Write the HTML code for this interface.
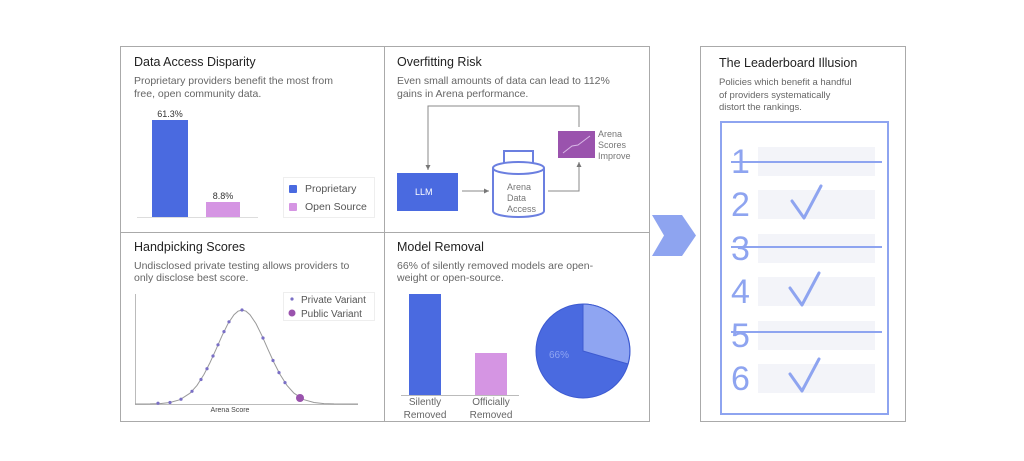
<!DOCTYPE html>
<html><head><meta charset="utf-8"><style>
html,body{margin:0;padding:0;background:#fff;}
svg{display:block;font-family:"Liberation Sans",sans-serif;}
</style></head><body>
<svg width="1024" height="461" viewBox="0 0 1024 461" xmlns="http://www.w3.org/2000/svg">
<defs>
<marker id="ah" markerWidth="6" markerHeight="6" refX="5" refY="3" orient="auto"><path d="M0,0.5 L5,3 L0,5.5 Z" fill="#777"/></marker>
</defs>
<rect x="120.5" y="46.5" width="529" height="375" fill="#fff" stroke="#aaa"/>
<line x1="384.5" y1="46" x2="384.5" y2="421" stroke="#aaa"/>
<line x1="120" y1="232.5" x2="649" y2="232.5" stroke="#aaa"/>

<text x="134" y="66" font-size="12.5" fill="#222">Data Access Disparity</text>
<text x="134" y="84" font-size="10.5" fill="#666">Proprietary providers benefit the most from</text>
<text x="134" y="97" font-size="10.5" fill="#666">free, open community data.</text>
<text x="170" y="117" font-size="9" fill="#333" text-anchor="middle">61.3%</text>
<rect x="152" y="120" width="36" height="97" fill="#4a6ae0"/>
<text x="223" y="199" font-size="9" fill="#333" text-anchor="middle">8.8%</text>
<rect x="206" y="202" width="34" height="15" fill="#d595e3"/>
<line x1="137" y1="217.5" x2="258" y2="217.5" stroke="#ddd"/>
<rect x="283.5" y="177.5" width="91" height="40" fill="#fff" stroke="#eee"/>
<rect x="289" y="185" width="8" height="8" rx="1" fill="#4a6ae0"/>
<text x="305" y="192" font-size="10.5" fill="#555">Proprietary</text>
<rect x="289" y="203" width="8" height="8" rx="1" fill="#d595e3"/>
<text x="305" y="210" font-size="10.5" fill="#555">Open Source</text>

<text x="397" y="66" font-size="12.5" fill="#222">Overfitting Risk</text>
<text x="397" y="84" font-size="10.5" fill="#666">Even small amounts of data can lead to 112%</text>
<text x="397" y="97" font-size="10.5" fill="#666">gains in Arena performance.</text>
<polyline points="579,127 579,106 428,106 428,170" fill="none" stroke="#888" marker-end="url(#ah)"/>
<rect x="397" y="173" width="61" height="38" fill="#4a6ae0"/>
<text x="415" y="195" font-size="9" fill="#fff">LLM</text>
<line x1="462" y1="191" x2="489" y2="191" stroke="#888" marker-end="url(#ah)"/>
<path d="M504,166 V151 H533 V166" fill="none" stroke="#6b7fe0" stroke-width="2"/>
<path d="M493,168 V211 A25.5,6 0 0 0 544,211 V168" fill="#fff" stroke="#6b7fe0" stroke-width="2"/>
<ellipse cx="518.5" cy="168" rx="25.5" ry="6" fill="#fff" stroke="#6b7fe0" stroke-width="2"/>
<text x="507" y="190" font-size="9" fill="#777">Arena</text>
<text x="507" y="201" font-size="9" fill="#777">Data</text>
<text x="507" y="212" font-size="9" fill="#777">Access</text>
<polyline points="548,191 579,191 579,162" fill="none" stroke="#888" marker-end="url(#ah)"/>
<rect x="558" y="131" width="37" height="27" fill="#9a53ad"/>
<polyline points="563,153 572,146 578,145 590,136" fill="none" stroke="#d9b8e6" stroke-width="1"/>
<text x="598" y="137" font-size="9" fill="#777">Arena</text>
<text x="598" y="148" font-size="9" fill="#777">Scores</text>
<text x="598" y="159" font-size="9" fill="#777">Improve</text>

<text x="134" y="251" font-size="12.5" fill="#222">Handpicking Scores</text>
<text x="134" y="269" font-size="10.5" fill="#666">Undisclosed private testing allows providers to</text>
<text x="134" y="281" font-size="10.5" fill="#666">only disclose best score.</text>
<line x1="135.5" y1="294" x2="135.5" y2="404" stroke="#bbb"/>
<line x1="135" y1="404.5" x2="358" y2="404.5" stroke="#bbb"/>
<polyline fill="none" stroke="#999" stroke-width="1" points="135,404 150,403.9 160,403.6 170,402.5 180,399.7 190,393.2 197,385.4 204,374.4 210,362.6 216,349.4 222,335.8 228,323.6 234,314.7 238,311.2 242,310 246,311.2 250,314.7 256,323.6 262,335.8 268,349.4 274,362.6 280,374.4 287,385.4 294,393.2 304,399.7 314,402.5 324,403.6 334,403.9 358,404"/>
<g fill="#7a6fc6">
<circle cx="158" cy="403.2" r="1.6"/><circle cx="170" cy="402.5" r="1.6"/><circle cx="181" cy="399.2" r="1.6"/><circle cx="192" cy="391.3" r="1.6"/><circle cx="201" cy="379.5" r="1.6"/><circle cx="207" cy="368.7" r="1.6"/><circle cx="213" cy="356" r="1.6"/><circle cx="218" cy="344.8" r="1.6"/><circle cx="224" cy="331.6" r="1.6"/><circle cx="229" cy="321.8" r="1.6"/><circle cx="242" cy="310" r="1.6"/><circle cx="263" cy="338" r="1.6"/><circle cx="273" cy="360.5" r="1.6"/><circle cx="279" cy="372.6" r="1.6"/><circle cx="285" cy="382.6" r="1.6"/>
</g>
<circle cx="300" cy="398" r="4" fill="#9a53ad"/>
<text x="230" y="412" font-size="7" fill="#444" text-anchor="middle">Arena Score</text>
<rect x="283.5" y="292.5" width="91" height="28" fill="#fff" stroke="#eee"/>
<circle cx="292" cy="299" r="1.6" fill="#7a6fc6"/>
<text x="301" y="303" font-size="10" fill="#555">Private Variant</text>
<circle cx="292" cy="313" r="3.5" fill="#9a53ad"/>
<text x="301" y="317" font-size="10" fill="#555">Public Variant</text>

<text x="397" y="251" font-size="12.5" fill="#222">Model Removal</text>
<text x="397" y="269" font-size="10.5" fill="#666">66% of silently removed models are open-</text>
<text x="397" y="281" font-size="10.5" fill="#666">weight or open-source.</text>
<rect x="409" y="294" width="32" height="101" fill="#4a6ae0"/>
<rect x="475" y="353" width="32" height="42" fill="#d595e3"/>
<line x1="401" y1="395.5" x2="519" y2="395.5" stroke="#bbb"/>
<text x="425" y="405" font-size="10" fill="#666" text-anchor="middle">Silently</text>
<text x="425" y="418" font-size="10" fill="#666" text-anchor="middle">Removed</text>
<text x="491" y="405" font-size="10" fill="#666" text-anchor="middle">Officially</text>
<text x="491" y="418" font-size="10" fill="#666" text-anchor="middle">Removed</text>
<circle cx="583" cy="351" r="47" fill="#4a6ae0" stroke="#3d5ad0"/>
<path d="M583,351 L583,304 A47,47 0 0 1 628,364 Z" fill="#8fa5f2" stroke="#3d5ad0"/>
<text x="549" y="358" font-size="10" fill="#8fa5f2">66%</text>

<polygon points="652,215 682,215 696,235.5 682,256 652,256 664,235.5" fill="#8ea4f0"/>

<rect x="700.5" y="46.5" width="205" height="375" fill="#fff" stroke="#aaa"/>
<text x="719" y="67" font-size="12.5" fill="#222">The Leaderboard Illusion</text>
<text x="719" y="85" font-size="9.5" fill="#666">Policies which benefit a handful</text>
<text x="719" y="98" font-size="9.5" fill="#666">of providers systematically</text>
<text x="719" y="110" font-size="9.5" fill="#666">distort the rankings.</text>
<rect x="721" y="122" width="167" height="292" fill="#fff" stroke="#8ea4f0" stroke-width="2"/>
<g fill="#f3f4f9">
<rect x="758" y="147" width="117" height="29"/>
<rect x="758" y="190" width="117" height="29"/>
<rect x="758" y="234" width="117" height="29"/>
<rect x="758" y="277" width="117" height="29"/>
<rect x="758" y="321" width="117" height="29"/>
<rect x="758" y="364" width="117" height="29"/>
</g>
<g font-size="34" fill="#8ea4f0">
<text x="731" y="173">1</text>
<text x="731" y="216">2</text>
<text x="731" y="260">3</text>
<text x="731" y="303">4</text>
<text x="731" y="347">5</text>
<text x="731" y="390">6</text>
</g>
<g stroke="#8ea4f0" stroke-width="2">
<line x1="731" y1="162" x2="882" y2="162"/>
<line x1="731" y1="247" x2="882" y2="247"/>
<line x1="731" y1="332" x2="882" y2="332"/>
</g>
<g fill="none" stroke="#8ea4f0" stroke-width="3" stroke-linejoin="round" stroke-linecap="round">
<polyline points="792,201 804,218 821,186"/>
<polyline points="790,288 802,305 819,273"/>
<polyline points="790,374 802,391 819,359"/>
</g>
</svg>
</body></html>
